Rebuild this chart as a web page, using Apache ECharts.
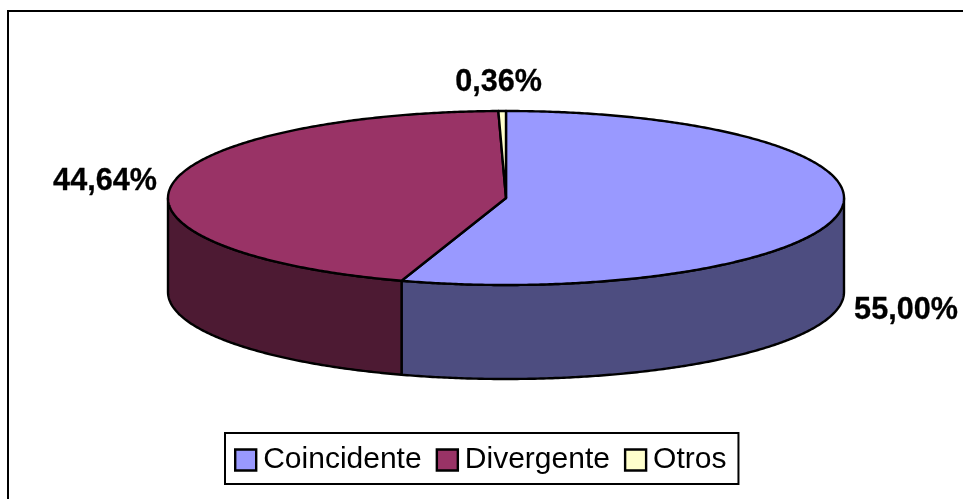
<!DOCTYPE html>
<html>
<head>
<meta charset="utf-8">
<style>
  html, body { margin: 0; padding: 0; background: #fff; }
  #chart { width: 963px; height: 499px; }
</style>
<script src="https://cdn.jsdelivr.net/npm/echarts@6/dist/echarts.min.js"></script>
</head>
<body>
<div id="chart"></div>
<script>
const categories = ['Coincidente', 'Divergente', 'Otros']
const shares = [55.00, 44.64, 0.36]

const topColors = ['#9999FF', '#993366', '#FFFFCC']
const sideColors = ['#4D4D80', '#4D1A33', '#808066']
// donde va cada etiqueta (centro del texto)
const labelSpots = [[906, 311], [105, 182], [498.5, 83]]

const cx = 506
const cy = 198
const rx = 338
const ry = 87
const depth = 94

const total = shares.reduce((a, b) => a + b, 0)

// angulo en grados, 0 arriba y en sentido horario
function rimPoint (deg, dy) {
  const r = deg * Math.PI / 180
  return [cx + rx * Math.sin(r), cy - ry * Math.cos(r) + (dy || 0)]
}

function arcPoints (from, to, dy) {
  const pts = []
  const n = Math.max(2, Math.ceil((to - from) * 2))
  for (let i = 0; i <= n; i++) {
    pts.push(rimPoint(from + (to - from) * i / n, dy))
  }
  return pts
}

function sliceAngles (index) {
  let start = 0
  for (let i = 0; i < index; i++) start += shares[i] / total * 360
  return [start, start + shares[index] / total * 360]
}

function renderSlice (index, params, api) {
  const value = api.value(0)
  const [start, end] = sliceAngles(index)
  const children = []
  const line = { stroke: '#000', lineWidth: 2.4, lineJoin: 'round' }

  // la pared solo se ve en la mitad delantera (90 a 270)
  const wallFrom = Math.max(start, 90)
  const wallTo = Math.min(end, 270)
  if (wallTo > wallFrom) {
    const upper = arcPoints(wallFrom, wallTo, 0)
    const lower = arcPoints(wallFrom, wallTo, depth).reverse()
    children.push({
      type: 'polygon',
      shape: { points: upper.concat(lower) },
      style: Object.assign({ fill: sideColors[index] }, line)
    })
  }

  children.push({
    type: 'polygon',
    shape: { points: [[cx, cy]].concat(arcPoints(start, end, 0)) },
    style: Object.assign({ fill: topColors[index] }, line)
  })

  children.push({
    type: 'text',
    style: {
      x: labelSpots[index][0],
      y: labelSpots[index][1],
      text: value.toFixed(2).replace('.', ',') + '%',
      fill: '#000',
      stroke: '#000',
      lineWidth: 0.3,
      font: 'bold 30.6px "Liberation Sans", Arial, sans-serif',
      textAlign: 'center',
      textVerticalAlign: 'middle'
    }
  })

  return { type: 'group', children: children }
}

const chart = echarts.init(document.getElementById('chart'), null, { renderer: 'canvas' })

chart.setOption({
  animation: false,
  backgroundColor: '#fff',
  graphic: [{
    type: 'rect',
    z: -1,
    shape: { x: 8, y: 11, width: 1000, height: 600 },
    style: { fill: '#fff', stroke: '#000', lineWidth: 2 }
  }],
  legend: {
    left: 225,
    top: 433,
    orient: 'horizontal',
    backgroundColor: '#fff',
    borderColor: '#000',
    borderWidth: 2,
    borderRadius: 0,
    padding: [12, 12, 9, 9],
    itemGap: 14,
    itemWidth: 21,
    itemHeight: 21,
    icon: 'rect',
    selectedMode: false,
    itemStyle: { borderColor: '#000', borderWidth: 2.4 },
    textStyle: {
      color: '#000',
      fontSize: 30,
      padding: [0, 0, 0, 2],
      fontFamily: '"Liberation Sans", Arial, sans-serif'
    },
    data: categories
  },
  series: categories.map((name, i) => ({
    type: 'custom',
    name: name,
    coordinateSystem: 'none',
    silent: true,
    itemStyle: { color: topColors[i] },
    renderItem: (params, api) => renderSlice(i, params, api),
    data: [[shares[i]]]
  }))
})
</script>
</body>
</html>
